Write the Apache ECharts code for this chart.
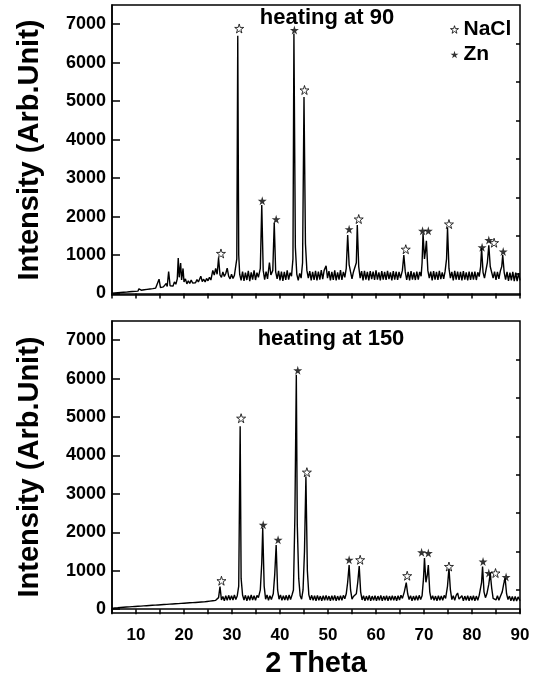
<!DOCTYPE html>
<html>
<head>
<meta charset="utf-8">
<script src="https://cdn.jsdelivr.net/npm/echarts@6/dist/echarts.min.js"></script>
<style>html,body{margin:0;padding:0;background:#fff}#c{width:543px;height:687px}</style>
</head>
<body>
<div id="c"></div>
<script>
// ---------- DATA ----------
const panelTitles = ['heating at 90', 'heating at 150'];
const xTickValues = [10, 20, 30, 40, 50, 60, 70, 80, 90];
const yTickValues = [0, 1000, 2000, 3000, 4000, 5000, 6000, 7000];
const yMinorTickValues = [500, 1500, 2500, 3500, 4500, 5500, 6500];
const phaseNames = ['NaCl', 'Zn'];

// XRD scan, heating at 90 (2θ, intensity)
const scan90 = [
[5.0,10],[5.3,25],[5.6,15],[5.9,30],[6.2,20],[6.5,35],[6.8,25],[7.1,40],[7.4,30],[7.7,45],[8.0,35],[8.3,55],[8.6,45],[8.9,60],[9.2,50],[9.5,70],[9.8,55],[10.1,75],[10.4,60],[10.6,120],[10.8,70],[11.1,85],[11.4,75],[11.7,95],[12.0,80],[12.3,105],[12.6,90],[12.9,115],[13.2,100],[13.5,125],[13.8,110],[14.1,140],[14.4,120],[14.8,370],[15.1,150],[15.4,135],[15.7,170],[16.0,150],[16.3,260],[16.5,180],[16.8,570],[17.1,200],[17.4,230],[17.7,190],[18.0,300],[18.3,240],[18.6,380],[18.8,920],[19.0,420],[19.3,790],[19.5,350],[19.8,650],[20.0,300],[20.3,380],[20.6,250],[20.9,330],[21.2,260],[21.5,350],[21.8,270],[22.1,320],[22.4,280],[22.7,360],[23.0,300],[23.5,450],[23.8,310],[24.1,370],[24.4,300],[24.7,390],[25.0,330],[25.3,420],[25.6,350],[26.0,600],[26.3,480],[26.6,650],[26.9,500],[27.2,920],[27.5,480],[27.8,420],[28.1,560],[28.4,440],[28.7,520],[29.0,660],[29.3,450],[29.6,380],[29.9,500],[30.2,390],[30.5,470],[30.8,450],[31.0,900],[31.2,6700],[31.4,1000],
[31.6,500],[31.9,340],[32.2,570],[32.5,330],[32.8,540],[33.1,350],[33.4,590],[33.7,320],[34.0,550],[34.3,360],[34.6,600],[34.9,350],[35.2,540],[35.5,420],[35.9,650],[36.2,2300],[36.5,600],[36.8,360],[37.1,570],[37.4,380],[37.8,800],[38.1,480],[38.5,600],[38.8,1840],[39.1,560],[39.4,380],[39.7,590],[40.0,340],[40.3,570],[40.6,330],[40.9,560],[41.2,350],[41.5,600],[41.8,360],[42.1,540],[42.4,450],[42.7,900],[42.9,6760],[43.2,1200],[43.5,500],[43.8,340],[44.1,520],[44.4,400],[44.7,800],[45.0,5110],[45.3,1300],[45.6,600],[45.9,400],[46.2,580],[46.5,340],[46.8,560],[47.1,350],[47.4,590],[47.7,340],[48.0,570],[48.3,360],[48.6,610],[48.9,370],[49.2,600],[49.6,720],[49.9,400],[50.2,580],[50.5,340],[50.8,560],[51.1,350],[51.4,600],[51.7,340],[52.0,550],[52.3,360],[52.6,610],[52.9,350],[53.2,560],[53.5,420],[53.8,650],[54.1,1520],[54.4,750],[54.7,560],[55.0,380],[55.3,560],[55.6,520],[55.9,800],[56.1,1780],[56.4,700],[56.7,400],[57.0,580],[57.3,340],[57.6,590],[57.9,360],[58.2,560],[58.5,340],[58.8,580],[59.1,370],[59.4,570],[59.7,350],[60.0,600],[60.3,360],[60.6,550],[60.9,340],[61.2,580],[61.5,360],[61.8,560],[62.1,350],[62.4,590],[62.7,370],[63.0,550],[63.3,340],[63.6,580],[63.9,360],[64.2,570],[64.5,350],[64.8,560],[65.1,400],[65.5,600],[65.8,1000],[66.1,560],[66.4,350],[66.7,560],[67.0,340],[67.3,580],[67.6,360],[67.9,550],[68.2,350],[68.5,570],[68.8,360],[69.1,560],[69.4,450],[69.6,800],[69.8,1560],[70.1,900],[70.3,1100],[70.5,1370],[70.8,600],[71.1,400],[71.4,570],[71.7,340],[72.0,580],[72.3,360],[72.6,560],[72.9,350],[73.2,590],[73.5,370],[73.8,550],[74.1,380],[74.4,580],[74.7,900],[74.9,1700],[75.2,650],[75.5,400],[75.8,560],[76.1,340],[76.4,590],[76.7,360],[77.0,570],[77.3,350],[77.6,560],[77.9,340],[78.2,580],[78.5,360],[78.8,550],[79.1,340],[79.4,570],[79.7,350],[80.0,560],[80.3,360],[80.6,570],[80.9,350],[81.2,550],[81.5,440],[81.8,700],[82.0,1180],[82.3,550],[82.6,400],[82.9,600],[83.2,800],[83.5,1250],[83.8,700],[84.1,650],[84.4,400],[84.7,570],[85.0,350],[85.3,560],[85.6,380],[85.9,580],[86.2,700],[86.4,1000],[86.7,550],[87.0,360],[87.3,560],[87.6,330],[87.9,540],[88.2,340],[88.5,560],[88.8,320],[89.1,540],[89.4,320],[89.7,530],[90.0,340]
];

// XRD scan, heating at 150 (2θ, intensity)
const scan150 = [
[5.0,20],[5.3,40],[5.6,30],[5.9,50],[6.2,35],[6.5,55],[6.8,45],[7.1,60],[7.4,50],[7.7,70],[8.0,55],[8.3,75],[8.6,60],[8.9,80],[9.2,65],[9.5,85],[9.8,70],[10.1,90],[10.4,75],[10.7,95],[11.0,80],[11.3,100],[11.6,85],[11.9,105],[12.2,90],[12.5,115],[12.8,95],[13.1,120],[13.4,100],[13.7,125],[14.0,105],[14.3,130],[14.6,110],[14.9,135],[15.2,115],[15.5,140],[15.8,120],[16.1,145],[16.4,125],[16.7,150],[17.0,130],[17.3,155],[17.6,135],[17.9,160],[18.2,140],[18.5,165],[18.8,145],[19.1,170],[19.4,150],[19.7,175],[20.0,155],[20.3,180],[20.6,160],[20.9,185],[21.2,165],[21.5,190],[21.8,170],[22.1,195],[22.4,175],[22.7,200],[23.0,180],[23.3,215],[23.6,185],[23.9,220],[24.2,190],[24.5,230],[24.8,200],[25.1,240],[25.4,210],[25.7,250],[26.0,220],[26.3,260],[26.6,230],[26.9,280],[27.2,300],[27.5,590],
[27.8,240],[28.1,330],[28.4,220],[28.7,350],[29.0,230],[29.3,360],[29.6,240],[29.9,350],[30.2,240],[30.5,370],[30.8,250],[31.1,350],[31.4,600],[31.7,4760],[31.9,800],[32.2,370],[32.5,240],[32.8,360],[33.1,220],[33.4,350],[33.7,230],[34.0,370],[34.3,240],[34.6,350],[34.9,230],[35.2,360],[35.5,300],[35.9,500],[36.2,1200],[36.4,2110],[36.7,600],[37.0,260],[37.3,370],[37.6,230],[37.9,350],[38.2,250],[38.6,400],[38.9,900],[39.2,1670],[39.5,500],[39.8,260],[40.1,370],[40.4,230],[40.7,350],[41.0,240],[41.3,360],[41.6,230],[41.9,370],[42.2,250],[42.5,370],[42.8,500],[43.1,2400],[43.4,6100],[43.6,2200],[43.9,800],[44.2,350],[44.5,260],[44.8,500],[45.1,1500],[45.4,3450],[45.7,1000],[46.0,380],[46.3,240],[46.6,360],[46.9,230],[47.2,350],[47.5,220],[47.8,360],[48.1,230],[48.4,340],[48.7,220],[49.0,350],[49.3,230],[49.6,360],[49.9,230],[50.2,340],[50.5,220],[50.8,350],[51.1,230],[51.4,360],[51.7,220],[52.0,340],[52.3,230],[52.6,350],[52.9,230],[53.2,360],[53.5,270],[53.8,400],[54.1,700],[54.4,1150],[54.7,500],[55.0,260],[55.3,330],[55.6,290],[55.9,400],[56.2,700],[56.5,1120],[56.8,450],[57.1,240],[57.4,350],[57.7,220],[58.0,340],[58.3,230],[58.6,360],[58.9,220],[59.2,340],[59.5,230],[59.8,350],[60.1,220],[60.4,340],[60.7,230],[61.0,360],[61.3,220],[61.6,340],[61.9,230],[62.2,350],[62.5,220],[62.8,340],[63.1,230],[63.4,350],[63.7,230],[64.0,340],[64.3,220],[64.6,350],[64.9,240],[65.2,360],[65.5,280],[65.9,450],[66.3,690],[66.6,400],[66.9,250],[67.2,350],[67.5,220],[67.8,340],[68.1,230],[68.4,350],[68.7,230],[69.0,360],[69.3,250],[69.6,350],[69.9,800],[70.1,1330],[70.4,700],[70.7,900],[70.9,1150],[71.2,450],[71.5,250],[71.8,350],[72.1,230],[72.4,340],[72.7,220],[73.0,350],[73.3,230],[73.6,340],[73.9,230],[74.2,360],[74.5,280],[74.9,600],[75.2,1070],[75.5,500],[75.8,250],[76.1,350],[76.4,230],[76.7,360],[77.0,420],[77.3,260],[77.6,230],[77.9,350],[78.2,220],[78.5,340],[78.8,230],[79.1,350],[79.4,220],[79.7,340],[80.0,230],[80.3,350],[80.6,220],[80.9,340],[81.2,230],[81.5,360],[81.8,400],[82.0,700],[82.2,1110],[82.5,450],[82.8,300],[83.1,400],[83.5,650],[83.8,940],[84.1,550],[84.4,280],[84.7,330],[85.0,240],[85.3,350],[85.6,230],[85.9,330],[86.3,450],[86.6,650],[86.9,810],[87.2,400],[87.5,250],[87.8,340],[88.1,220],[88.4,330],[88.7,210],[89.0,330],[89.3,210],[89.6,320],[90.0,220]
];

// Peak markers (star positions, 2θ and intensity)
const nacl90 = [[27.7,1040],[31.5,6890],[45.1,5290],[56.4,1935],[66.2,1150],[75.2,1805],[84.6,1320]];
const zn90   = [[36.3,2410],[39.2,1930],[43.0,6850],[54.4,1670],[69.7,1630],[70.9,1630],[82.1,1200],[83.5,1390],[86.5,1090]];
const nacl150 = [[27.8,740],[31.9,4970],[45.6,3565],[56.7,1285],[66.5,870],[75.2,1110],[84.9,940]];
const zn150   = [[36.5,2195],[39.6,1805],[43.7,6215],[54.4,1285],[69.5,1480],[70.9,1460],[82.3,1240],[83.5,940],[87.1,835]];

// ---------- CHART ----------
const starPath = 'path://M50,0 L61,35 98,35 68,57 79,91 50,70 21,91 32,57 2,35 39,35 Z';
const FONT = '"Liberation Sans", Arial, sans-serif';
const grids = [
  {left: 112, right: 23, top: 5, height: 290},
  {left: 112, right: 23, top: 321, height: 292}
];
const yMins = [-40, -100];

const xAxes = [0, 1].map(i => ({
  type: 'value', gridIndex: i, min: 5, max: 90, interval: 5,
  axisLine: {show: true, lineStyle: {color: '#000', width: 1.5}},
  axisTick: {show: true, inside: false, length: 5, lineStyle: {color: '#000', width: 1.5}},
  axisLabel: {
    show: i === 1, margin: 14, color: '#000',
    fontFamily: FONT, fontWeight: 'bold', fontSize: 17,
    formatter: v => (xTickValues.includes(v) ? String(v) : '')
  },
  splitLine: {show: false},
  name: i === 1 ? '2 Theta' : '', nameLocation: 'middle', nameGap: 36,
  nameTextStyle: {color: '#000', fontFamily: FONT, fontWeight: 'bold', fontSize: 29}
}));

const yAxes = [];
[0, 1].forEach(i => {
  yAxes.push({
    type: 'value', gridIndex: i, min: yMins[i], max: 7500,
    axisLine: {show: true, lineStyle: {color: '#000', width: 1.5}},
    axisTick: {show: true, inside: true, length: 8, customValues: yTickValues, lineStyle: {color: '#000', width: 1.5}},
    axisLabel: {show: true, margin: 6, color: '#000', customValues: yTickValues,
      fontFamily: FONT, fontWeight: 'bold', fontSize: 18, formatter: v => String(v)},
    splitLine: {show: false},
    name: 'Intensity (Arb.Unit)', nameLocation: 'middle', nameGap: 68, nameRotate: 90,
    nameTextStyle: {color: '#000', fontFamily: FONT, fontWeight: 'bold', fontSize: 29}
  });
  yAxes.push({
    type: 'value', gridIndex: i, min: yMins[i], max: 7500,
    axisLine: {show: false},
    axisTick: {show: true, inside: true, length: 4, customValues: yMinorTickValues, lineStyle: {color: '#000', width: 1.5}},
    axisLabel: {show: false},
    splitLine: {show: false}
  });
});

const lineSeries = (data, gi) => ({
  type: 'line', xAxisIndex: gi, yAxisIndex: gi * 2, data: data,
  showSymbol: false, symbol: 'none', silent: true, animation: false,
  lineStyle: {color: '#000', width: 1.4}
});
const starStyle = filled => ({color: filled ? '#000' : '#fff', borderColor: '#000', borderWidth: filled ? 0 : 1});
const starSeries = (name, data, gi, filled) => ({
  name: name, type: 'scatter', xAxisIndex: gi, yAxisIndex: gi * 2, data: data,
  symbol: starPath, symbolSize: 9, animation: false, z: 5,
  itemStyle: starStyle(filled)
});

const option = {
  backgroundColor: '#fff',
  animation: false,
  grid: grids.map(g => Object.assign({show: true, borderColor: '#000', borderWidth: 1.5, backgroundColor: 'transparent'}, g)),
  xAxis: xAxes,
  yAxis: yAxes,
  legend: {
    data: [
      {name: phaseNames[0], icon: starPath, itemStyle: starStyle(false)},
      {name: phaseNames[1], icon: starPath, itemStyle: starStyle(true)}
    ],
    orient: 'vertical', left: 445, top: 14, itemGap: 4,
    itemWidth: 8, itemHeight: 8, selectedMode: false,
    textStyle: {color: '#000', fontFamily: FONT, fontWeight: 'bold', fontSize: 21}
  },
  graphic: [
    {type: 'text', x: 327, y: 18, style: {text: panelTitles[0], align: 'center', verticalAlign: 'middle',
      font: 'bold 22px "Liberation Sans", Arial, sans-serif', fill: '#000'}},
    {type: 'text', x: 331, y: 339, style: {text: panelTitles[1], align: 'center', verticalAlign: 'middle',
      font: 'bold 22px "Liberation Sans", Arial, sans-serif', fill: '#000'}}
  ],
  series: [
    lineSeries(scan90, 0),
    lineSeries(scan150, 1),
    starSeries('NaCl', nacl90, 0, false),
    starSeries('Zn', zn90, 0, true),
    starSeries('NaCl', nacl150, 1, false),
    starSeries('Zn', zn150, 1, true)
  ]
};

const chart = echarts.init(document.getElementById('c'), null, {renderer: 'canvas'});
chart.setOption(option);
</script>
</body>
</html>
